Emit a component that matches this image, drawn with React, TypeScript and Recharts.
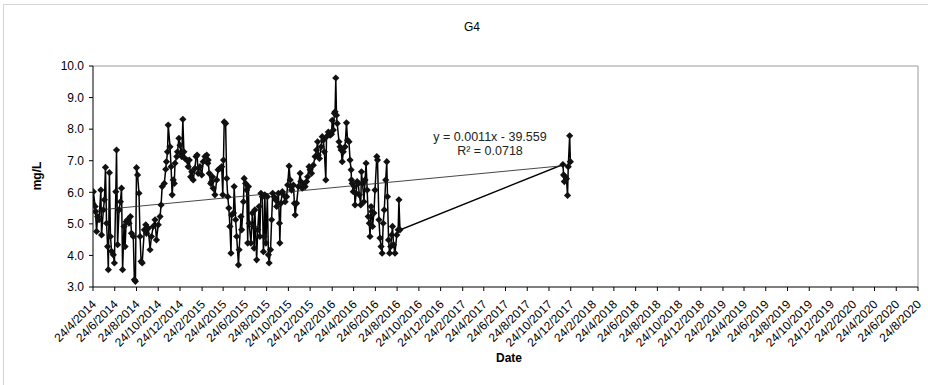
import { Line, LineChart, ReferenceLine, XAxis, YAxis } from "recharts";

// G4 dissolved oxygen readings
const period2014: [string, number][] = [
  ["2014-04-24", 5.63], ["2014-04-25", 6.02], ["2014-04-30", 5.55], ["2014-05-01", 5.39], ["2014-05-04", 4.76],
  ["2014-05-07", 5.23], ["2014-05-11", 5.13], ["2014-05-16", 6.07], ["2014-05-18", 4.65], ["2014-05-23", 5.44],
  ["2014-05-26", 5.76], ["2014-05-29", 6.79], ["2014-06-01", 5.02], ["2014-06-04", 4.28], ["2014-06-06", 3.55],
  ["2014-06-09", 6.62], ["2014-06-12", 4.6], ["2014-06-15", 4.13], ["2014-06-20", 4.02], ["2014-06-23", 3.76],
  ["2014-06-27", 6.02], ["2014-06-29", 7.34], ["2014-07-02", 4.34], ["2014-07-06", 5.44], ["2014-07-10", 5.7],
  ["2014-07-13", 6.13], ["2014-07-16", 3.55], ["2014-07-20", 4.92], ["2014-07-23", 4.28], ["2014-07-26", 5.07],
  ["2014-07-30", 5.13], ["2014-08-03", 5.02], ["2014-08-07", 5.23], ["2014-08-10", 4.7], ["2014-08-15", 4.6],
  ["2014-08-18", 3.23], ["2014-08-21", 3.18], ["2014-08-24", 6.78], ["2014-08-27", 6.55], ["2014-08-31", 5.97],
  ["2014-09-03", 4.6], ["2014-09-06", 3.81], ["2014-09-09", 3.76], ["2014-09-15", 4.81], ["2014-09-19", 4.97],
  ["2014-09-21", 4.7], ["2014-09-26", 4.86], ["2014-10-01", 4.18], ["2014-10-05", 4.6], ["2014-10-10", 4.92],
  ["2014-10-15", 5.13], ["2014-10-19", 4.49], ["2014-10-24", 4.97], ["2014-10-29", 5.23], ["2014-11-01", 5.6],
  ["2014-11-04", 6.18], ["2014-11-10", 6.28], ["2014-11-14", 6.73], ["2014-11-16", 6.97], ["2014-11-19", 7.28],
  ["2014-11-21", 8.13],
];

const period2015a: [string, number][] = [
  ["2014-11-26", 7.44], ["2014-11-29", 6.81], ["2014-12-02", 5.92], ["2014-12-05", 6.39], ["2014-12-08", 6.28],
  ["2014-12-10", 6.92], ["2014-12-15", 7.13], ["2014-12-17", 7.28], ["2014-12-21", 7.71], ["2014-12-24", 7.49],
  ["2014-12-27", 7.23], ["2014-12-29", 7.13], ["2015-01-01", 8.31], ["2015-01-04", 7.28], ["2015-01-07", 7.07],
  ["2015-01-12", 7.02], ["2015-01-16", 6.81], ["2015-01-19", 7.02], ["2015-01-23", 6.49], ["2015-01-26", 6.65],
  ["2015-01-30", 6.39], ["2015-02-04", 6.76], ["2015-02-07", 7.13], ["2015-02-10", 7.18], ["2015-02-13", 6.6],
  ["2015-02-18", 6.81], ["2015-02-23", 6.55], ["2015-02-27", 6.97], ["2015-03-04", 7.13], ["2015-03-09", 7.18],
  ["2015-03-12", 6.92], ["2015-03-13", 7.02], ["2015-03-16", 6.6], ["2015-03-20", 6.28], ["2015-03-23", 6.34],
  ["2015-03-25", 6.49], ["2015-03-27", 6.13], ["2015-04-01", 5.92], ["2015-04-06", 6.39], ["2015-04-10", 6.71],
  ["2015-04-15", 6.76], ["2015-04-20", 6.81], ["2015-04-23", 5.92], ["2015-04-25", 7.02], ["2015-04-27", 8.23],
  ["2015-05-01", 8.18], ["2015-05-04", 6.44], ["2015-05-07", 5.86], ["2015-05-10", 5.5], ["2015-05-13", 4.92],
  ["2015-05-16", 4.07], ["2015-05-18", 5.28], ["2015-05-23", 5.34], ["2015-05-25", 6.18], ["2015-05-29", 5.13],
  ["2015-06-01", 4.6], ["2015-06-06", 3.7], ["2015-06-08", 4.18], ["2015-06-13", 5.23], ["2015-06-15", 4.81],
  ["2015-06-20", 5.7], ["2015-06-22", 6.44], ["2015-06-26", 6.28], ["2015-06-29", 6.07], ["2015-07-02", 4.39],
];

const period2015b: [string, number][] = [
  ["2015-07-04", 6.18], ["2015-07-06", 5.02], ["2015-07-11", 4.39], ["2015-07-15", 5.34], ["2015-07-18", 4.92],
  ["2015-07-20", 4.23], ["2015-07-22", 5.44], ["2015-07-27", 3.86], ["2015-07-30", 4.81], ["2015-08-03", 5.55],
  ["2015-08-05", 4.6], ["2015-08-08", 5.97], ["2015-08-12", 5.86], ["2015-08-15", 4.12], ["2015-08-17", 4.6],
  ["2015-08-19", 5.92], ["2015-08-22", 4.39], ["2015-08-26", 5.86], ["2015-08-29", 4.02], ["2015-08-31", 3.76],
  ["2015-09-04", 4.18], ["2015-09-07", 5.13], ["2015-09-10", 5.97], ["2015-09-14", 5.86], ["2015-09-18", 5.76],
  ["2015-09-21", 5.55], ["2015-09-26", 5.97], ["2015-09-29", 5.02], ["2015-09-30", 4.39], ["2015-10-03", 5.65],
  ["2015-10-07", 6.02], ["2015-10-10", 5.92], ["2015-10-15", 5.7], ["2015-10-19", 5.86], ["2015-10-22", 6.23],
  ["2015-10-26", 6.83], ["2015-10-29", 6.39], ["2015-10-31", 6.18], ["2015-11-02", 6.07], ["2015-11-07", 6.23],
  ["2015-11-10", 5.65], ["2015-11-12", 5.28], ["2015-11-16", 5.65], ["2015-11-21", 6.18], ["2015-11-26", 6.6],
  ["2015-11-28", 6.34], ["2015-12-02", 6.13], ["2015-12-05", 6.23], ["2015-12-10", 6.18], ["2015-12-14", 6.34],
  ["2015-12-17", 6.49], ["2015-12-21", 6.81], ["2015-12-24", 6.71], ["2015-12-28", 6.6], ["2016-01-02", 6.86],
  ["2016-01-07", 7.13], ["2016-01-11", 7.34], ["2016-01-14", 7.6], ["2016-01-16", 7.18], ["2016-01-19", 7.07],
  ["2016-01-24", 7.44], ["2016-01-27", 7.76], ["2016-01-30", 7.65], ["2016-02-02", 7.28], ["2016-02-06", 6.39],
  ["2016-02-08", 7.76], ["2016-02-13", 7.91], ["2016-02-16", 7.86],
];

const period2016: [string, number][] = [
  ["2016-02-18", 7.81], ["2016-02-22", 7.84], ["2016-02-24", 8.28], ["2016-02-27", 7.97], ["2016-03-01", 8.5],
  ["2016-03-03", 8.55], ["2016-03-05", 9.62], ["2016-03-07", 8.44], ["2016-03-09", 8.18], ["2016-03-14", 7.6],
  ["2016-03-17", 7.44], ["2016-03-20", 7.34], ["2016-03-23", 6.97], ["2016-03-26", 7.28], ["2016-03-31", 7.44],
  ["2016-04-04", 8.2], ["2016-04-07", 7.65], ["2016-04-11", 7.6], ["2016-04-14", 7.02], ["2016-04-17", 6.71],
  ["2016-04-18", 6.39], ["2016-04-20", 6.28], ["2016-04-23", 6.02], ["2016-04-26", 6.18], ["2016-04-28", 5.6],
  ["2016-05-01", 5.97], ["2016-05-04", 6.34], ["2016-05-07", 6.28], ["2016-05-10", 5.92], ["2016-05-14", 5.6],
  ["2016-05-16", 6.65], ["2016-05-19", 6.28], ["2016-05-23", 5.7], ["2016-05-26", 6.39], ["2016-05-29", 6.92],
  ["2016-06-01", 6.07], ["2016-06-04", 5.23], ["2016-06-07", 5.02], ["2016-06-09", 4.6], ["2016-06-12", 5.55],
  ["2016-06-14", 5.39], ["2016-06-16", 4.92], ["2016-06-20", 5.34], ["2016-06-23", 6.07], ["2016-06-28", 7.13],
  ["2016-06-30", 7.02], ["2016-07-04", 5.13], ["2016-07-07", 4.55], ["2016-07-10", 4.28], ["2016-07-13", 4.07],
  ["2016-07-16", 5.02], ["2016-07-19", 5.44], ["2016-07-23", 6.39], ["2016-07-26", 6.97], ["2016-07-28", 5.86],
  ["2016-07-31", 4.49], ["2016-08-03", 4.07], ["2016-08-06", 4.28], ["2016-08-09", 4.65], ["2016-08-11", 4.92],
  ["2016-08-14", 4.34], ["2016-08-18", 4.07], ["2016-08-23", 4.65], ["2016-08-27", 4.81], ["2016-08-29", 5.76],
  ["2016-09-01", 4.81],
];

const period2017: [string, number][] = [
  ["2017-12-02", 6.88], ["2017-12-04", 6.55], ["2017-12-06", 6.34], ["2017-12-08", 6.5], ["2017-12-12", 6.43],
  ["2017-12-15", 5.9], ["2017-12-17", 6.81], ["2017-12-21", 7.79], ["2017-12-23", 6.97],
];

// linear trend on Excel serial dates (label shows the rounded coefficients)
const trendSlope = 0.0010773;
const trendIntercept = -39.559;
const trendLabel = "y = 0.0011x - 39.559";
const r2Label = "R² = 0.0718";

const axisStart = "2014-04-24";
const axisEnd = "2020-08-24";
const yTicks = [3, 4, 5, 6, 7, 8, 9, 10];

const DAY = 86400000;
const toDay = (s: string) => {
  const [y, m, d] = s.split("-").map(Number);
  return Date.UTC(y, m - 1, d) / DAY;
};
const fmtDate = (t: number) => {
  const d = new Date(t * DAY);
  return `${d.getUTCDate()}/${d.getUTCMonth() + 1}/${d.getUTCFullYear()}`;
};
const excelSerial = (t: number) => t + 25569;

const points = [...period2014, ...period2015a, ...period2015b, ...period2016, ...period2017].map(([d, v]) => ({
  t: toDay(d),
  v,
}));

const tStart = toDay(axisStart);
const tEnd = toDay(axisEnd);

const xTicks: number[] = [];
{
  const [y0, m0, d0] = axisStart.split("-").map(Number);
  for (let k = 0; ; k++) {
    const t = Date.UTC(y0, m0 - 1 + 2 * k, d0) / DAY;
    if (t > tEnd) break;
    xTicks.push(t);
  }
}

const tFirst = points[0].t;
const tLast = points[points.length - 1].t;
const trendPoints = [tFirst, tLast].map((t) => ({ t, v: trendSlope * excelSerial(t) + trendIntercept }));

const font = '"Liberation Sans", Arial, sans-serif';

const Diamond = (p: any) => {
  const { cx, cy, index } = p;
  if (cx == null || cy == null) return <g key={index} />;
  const r = 3.6;
  return <path key={index} d={`M${cx},${cy - r}L${cx + r},${cy}L${cx},${cy + r}L${cx - r},${cy}Z`} fill="#111" />;
};

const DateTick = ({ x, y, payload }: any) => (
  <text
    x={0}
    y={0}
    transform={`translate(${x + 4},${y + 12}) rotate(-45)`}
    textAnchor="end"
    fontSize={12}
    fontFamily={font}
    fill="#000"
  >
    {fmtDate(payload.value)}
  </text>
);

export default function App() {
  return (
    <div
      style={{
        position: "absolute",
        left: 0,
        top: 0,
        width: 928,
        height: 385,
        overflow: "hidden",
        background: "#fff",
        fontFamily: font,
      }}
    >
      <div style={{ position: "absolute", left: 3, top: 4, width: 940, height: 400, border: "1px solid #d4d4d4" }} />
      <LineChart width={928} height={385} margin={{ top: 66, right: 10, bottom: 28, left: 33 }}>
        <XAxis
          dataKey="t"
          type="number"
          domain={[tStart, tEnd]}
          ticks={xTicks}
          interval={0}
          tick={<DateTick />}
          tickSize={4}
          height={70}
          allowDataOverflow
          axisLine={{ stroke: "#000" }}
          tickLine={{ stroke: "#000" }}
        />
        <YAxis
          type="number"
          domain={[3, 10]}
          ticks={yTicks}
          tickFormatter={(v: number) => v.toFixed(1)}
          tickSize={4}
          tickMargin={5}
          width={60}
          axisLine={{ stroke: "#000" }}
          tickLine={{ stroke: "#000" }}
          tick={{ fontSize: 12, fill: "#000", fontFamily: font }}
        />
        <ReferenceLine y={10} stroke="#9a9a9a" />
        <ReferenceLine x={tEnd} stroke="#9a9a9a" />
        <Line
          data={points}
          dataKey="v"
          type="linear"
          stroke="#000"
          strokeWidth={1.5}
          dot={Diamond}
          activeDot={false}
          isAnimationActive={false}
        />
        <Line
          data={trendPoints}
          dataKey="v"
          type="linear"
          stroke="#333"
          strokeWidth={0.9}
          dot={false}
          activeDot={false}
          isAnimationActive={false}
        />
      </LineChart>
      <div style={{ position: "absolute", left: 472, top: 27, transform: "translate(-50%, -50%)", fontSize: 12 }}>G4</div>
      <div
        style={{
          position: "absolute",
          left: 37,
          top: 176,
          transform: "translate(-50%, -50%) rotate(-90deg)",
          fontSize: 12,
          fontWeight: "bold",
          whiteSpace: "nowrap",
        }}
      >
        mg/L
      </div>
      <div
        style={{ position: "absolute", left: 509, top: 358, transform: "translate(-50%, -50%)", fontSize: 12, fontWeight: "bold" }}
      >
        Date
      </div>
      <div
        style={{
          position: "absolute",
          left: 490,
          top: 144,
          transform: "translate(-50%, -50%)",
          fontSize: 12.5,
          lineHeight: "13.5px",
          textAlign: "center",
          whiteSpace: "nowrap",
          color: "#222",
        }}
      >
        <div>{trendLabel}</div>
        <div>{r2Label}</div>
      </div>
    </div>
  );
}
